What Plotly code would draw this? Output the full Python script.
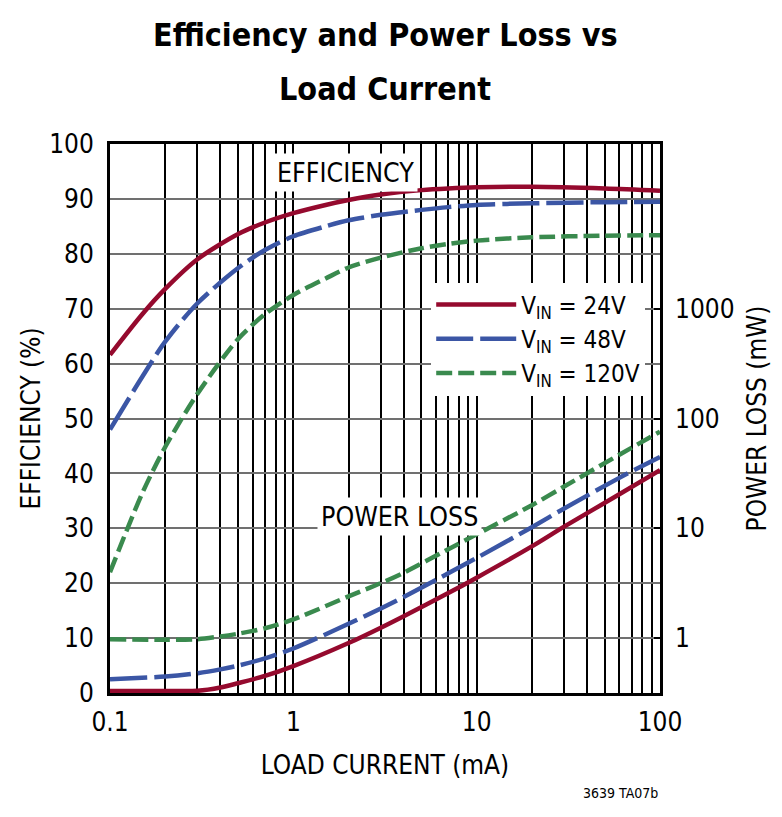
import plotly.graph_objects as go

# load current (mA) points
i_eff = [0.1, 0.15, 0.2, 0.3, 0.5, 0.7, 1, 1.5, 2, 3, 5, 7, 10, 20, 50, 100]
eff_24 = [61.6, 69.0, 73.6, 79.0, 83.6, 85.7, 87.4, 88.9, 89.8, 90.8, 91.6, 91.9, 92.1, 92.2, 91.9, 91.5]
eff_48 = [48.0, 57.6, 64.0, 71.0, 77.4, 80.7, 83.2, 85.0, 86.1, 87.1, 88.0, 88.5, 88.9, 89.2, 89.4, 89.5]
eff_120 = [22.0, 36.4, 44.8, 54.5, 64.5, 69.0, 72.5, 75.5, 77.5, 79.3, 81.0, 81.8, 82.4, 83.0, 83.3, 83.4]

i_loss = [0.1, 0.2, 0.3, 0.4, 0.5, 0.7, 1, 2, 3, 4, 7, 10, 20, 30, 60, 100]
loss_24 = [0.330, 0.330, 0.331, 0.355, 0.389, 0.452, 0.556, 0.902, 1.245, 1.585, 2.57, 3.55, 6.84, 10.35, 20.4, 33.9]
loss_48 = [0.422, 0.447, 0.479, 0.519, 0.562, 0.653, 0.804, 1.349, 1.862, 2.371, 3.89, 5.37, 10.23, 15.14, 28.8, 44.7]
loss_120 = [0.977, 0.966, 0.977, 1.035, 1.096, 1.23, 1.479, 2.399, 3.162, 3.936, 6.457, 8.81, 16.22, 24.0, 46.8, 75.9]

x_ticks = [0.1, 1, 10, 100]
x_tick_text = ["0.1", "1", "10", "100"]
loss_ticks = [1, 10, 100, 1000]

RED = "#950a2e"
BLUE = "#3b56a5"
GREEN = "#3a8a4e"
FONT = "DejaVu Sans Condensed, Liberation Sans Narrow, sans-serif"

series = [
    ("V<sub>IN</sub> = 24V", eff_24, loss_24, RED, "solid"),
    ("V<sub>IN</sub> = 48V", eff_48, loss_48, BLUE, "37px,7px"),
    ("V<sub>IN</sub> = 120V", eff_120, loss_120, GREEN, "16px,6px"),
]

fig = go.Figure()
for name, eff, loss, color, dash in series:
    line = dict(color=color, width=4.5, dash=dash, shape="spline", smoothing=0.8)
    fig.add_trace(go.Scatter(x=i_eff, y=eff, mode="lines", name=name,
                             legendgroup=name, line=line))
    fig.add_trace(go.Scatter(x=i_loss, y=loss, mode="lines", name=name,
                             legendgroup=name, showlegend=False, yaxis="y2", line=line))

minor_vals = [m * 10 ** e for e in range(-1, 2) for m in range(2, 10)]

fig.update_layout(
    width=782, height=817,
    margin=dict(l=110, r=122, t=144, b=124),
    paper_bgcolor="white", plot_bgcolor="white",
    font=dict(family=FONT, color="black", size=26),
    showlegend=True,
    legend=dict(
        x=0.584, y=0.7477, xanchor="left", yanchor="top",
        bgcolor="white", borderwidth=0,
        font=dict(family=FONT, size=24),
        itemwidth=80, tracegroupgap=0,
    ),
    xaxis=dict(
        type="log", range=[-1, 2],
        tickvals=x_ticks, ticktext=x_tick_text,
        showgrid=True, gridcolor="black", gridwidth=1.5,
        minor=dict(tickvals=minor_vals, showgrid=True, gridcolor="black", gridwidth=1.5),
        showline=True, linecolor="black", linewidth=3, mirror=True,
        ticks="", ticklabelstandoff=4, zeroline=False,
        title=dict(text="LOAD CURRENT (mA)", font=dict(size=26), standoff=20),
    ),
    yaxis=dict(
        range=[0, 100], dtick=10,
        showgrid=True, gridcolor="#707070", gridwidth=1.5,
        showline=True, linecolor="black", linewidth=3, mirror=True,
        ticks="", ticklabelstandoff=8, zeroline=False,
        title=dict(text="EFFICIENCY (%)", font=dict(size=26), standoff=2),
    ),
    yaxis2=dict(
        type="log", range=[-0.5, 4.5], overlaying="y", side="right",
        tickvals=loss_ticks, ticktext=[str(v) for v in loss_ticks],
        showgrid=False, ticks="inside", ticklen=6, tickwidth=1.5, tickcolor="black",
        ticklabelstandoff=14, zeroline=False,
        title=dict(text="POWER LOSS (mW)", font=dict(size=26), standoff=14),
    ),
    annotations=[
        dict(text="Efficiency and Power Loss vs", xref="paper", yref="paper",
             x=0.5, y=1.199, xanchor="center", yanchor="middle", showarrow=False,
             font=dict(family=FONT, size=32, weight="bold")),
        dict(text="Load Current", xref="paper", yref="paper",
             x=0.5, y=1.1, xanchor="center", yanchor="middle", showarrow=False,
             font=dict(family=FONT, size=32, weight="bold")),
        dict(text="EFFICIENCY", xref="paper", yref="paper",
             x=0.4273, y=0.948, xanchor="center", yanchor="middle", showarrow=False,
             bgcolor="white", borderpad=3, font=dict(family=FONT, size=26.5)),
        dict(text="POWER LOSS", xref="paper", yref="paper",
             x=0.5255, y=0.3224, xanchor="center", yanchor="middle", showarrow=False,
             bgcolor="white", borderpad=3, font=dict(family=FONT, size=26.5)),
        dict(text="3639 TA07b", xref="paper", yref="paper",
             x=1.0, y=-0.182, xanchor="right", yanchor="middle", showarrow=False,
             font=dict(family=FONT, size=14)),
    ],
)

fig.write_html("out.html", config={"displayModeBar": False},
               post_script="document.body.style.margin='0';")
